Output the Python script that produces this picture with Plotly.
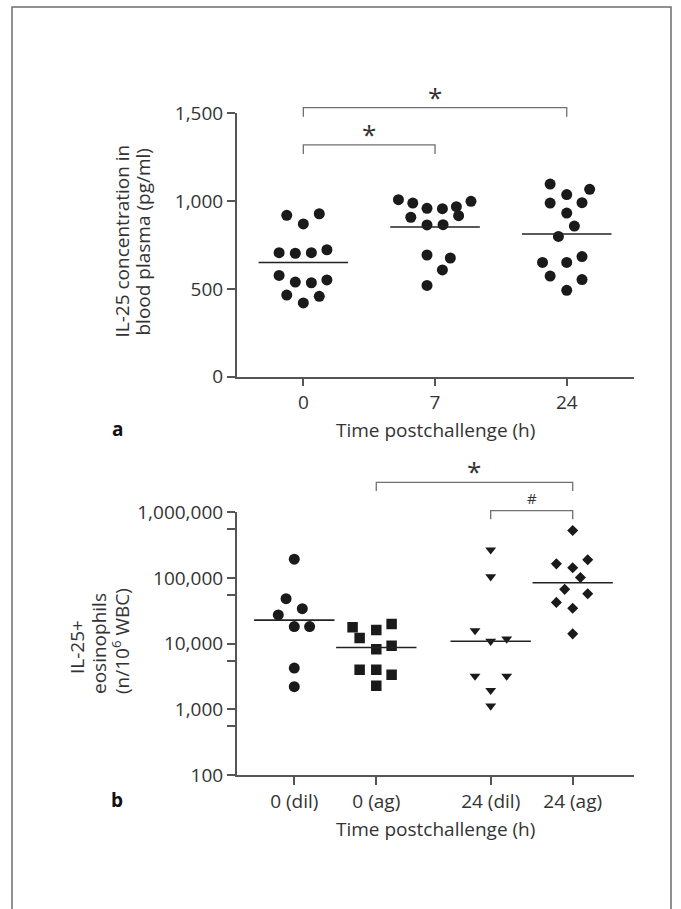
import plotly.graph_objects as go
import numpy as np

# ---------------- data ----------------
# Panel a: IL-25 concentration in blood plasma (pg/ml)
a_categories = ["0", "7", "24"]
a_0h = [919, 928, 870, 706, 703, 706, 723, 577, 539, 535, 551, 465, 458, 420]
a_7h = [1008, 989, 959, 957, 968, 999, 908, 917, 864, 866, 693, 676, 608, 520]
a_24h = [1097, 1067, 1037, 989, 991, 932, 858, 799, 651, 651, 684, 573, 553, 492]

# Panel b: IL-25+ eosinophils (n/10^6 WBC)
b_categories = ["0 (dil)", "0 (ag)", "24 (dil)", "24 (ag)"]
b_0dil = [193600, 48400, 34100, 27400, 18200, 18200, 4250, 2210]
b_0ag = [17800, 16200, 19900, 12200, 9270, 8240, 4000, 4000, 3370, 2290]
b_24dil = [268000, 104500, 15800, 10900, 11800, 3210, 3210, 1950, 1125]
b_24ag = [527000, 189000, 164000, 143000, 102000, 67100, 57700, 42500, 34500, 14100]

a_yticks = [0, 500, 1000, 1500]
b_yticks = [100, 1000, 10000, 100000, 1000000]
b_yminor = [550, 5500, 55000, 550000]

# ---------------- layout helpers (positions, not data) ----------------
a_pos = [0, 1, 2]
b_pos = [0, 1, 2.395, 3.395]
a_jitter = [
    [-0.126, 0.121, 0, -0.184, -0.061, 0.061, 0.179, -0.184, -0.061, 0.061, 0.179, -0.126, 0.121, 0],
    [-0.278, -0.169, -0.061, 0.056, 0.162, 0.273, -0.184, 0.179, -0.061, 0.061, -0.061, 0.116, 0.056, -0.061],
    [-0.126, 0.174, 0, -0.126, 0.116, 0, 0.058, -0.063, -0.184, 0, 0.116, -0.126, 0.116, 0],
]
b_jitter = [
    [0, -0.10, 0.098, -0.195, 0, 0.187, 0, 0],
    [-0.289, 0, 0.187, -0.203, 0.187, 0, -0.203, 0, 0.187, 0],
    [0, 0, -0.191, 0, 0.195, -0.191, 0.195, 0, 0],
    [0, 0.183, -0.199, 0, 0.094, -0.098, 0.183, -0.199, 0, 0],
]
b_symbols = ["circle", "square", "triangle-down", "diamond"]
b_sizes = [11, 10.5, 9.5, 8.5]

W, H = 681, 909
XDOM = [236.7 / W, 634.3 / W]
YDOM_A = [1 - 376.7 / H, 1 - 113.3 / H]
YDOM_B = [1 - 775.0 / H, 1 - 512.3 / H]
XR_A = [-0.506, 2.513]
XR_B = [-0.702, 4.146]
YR_A = [0, 1500]
YR_B = [2, 6]

FONT = "Open Sans"
TXT = "#333333"
AX = "#555555"
MK = "#1a1a1a"
FS = 19


def xpaper(x, xr):
    return XDOM[0] + (x - xr[0]) / (xr[1] - xr[0]) * (XDOM[1] - XDOM[0])


def ypaper(v, yr, dom, log=False):
    if log:
        v = np.log10(v)
    return dom[0] + (v - yr[0]) / (yr[1] - yr[0]) * (dom[1] - dom[0])


fig = go.Figure()

# panel a points + mean lines
for i, vals in enumerate([a_0h, a_7h, a_24h]):
    xs = [a_pos[i] + o for o in a_jitter[i]]
    fig.add_trace(go.Scatter(x=xs, y=vals, mode="markers", xaxis="x", yaxis="y",
                             marker=dict(symbol="circle", size=11, color=MK),
                             showlegend=False, hoverinfo="skip"))
    m = float(np.mean(vals))
    fig.add_trace(go.Scatter(x=[a_pos[i] - 0.34, a_pos[i] + 0.34], y=[m, m], mode="lines",
                             xaxis="x", yaxis="y", line=dict(color="#222222", width=1.6),
                             showlegend=False, hoverinfo="skip"))

# panel b points + median lines
for i, vals in enumerate([b_0dil, b_0ag, b_24dil, b_24ag]):
    xs = [b_pos[i] + o for o in b_jitter[i]]
    fig.add_trace(go.Scatter(x=xs, y=vals, mode="markers", xaxis="x2", yaxis="y2",
                             marker=dict(symbol=b_symbols[i], size=b_sizes[i], color=MK),
                             showlegend=False, hoverinfo="skip"))
    med = float(np.median(vals))
    fig.add_trace(go.Scatter(x=[b_pos[i] - 0.49, b_pos[i] + 0.49], y=[med, med], mode="lines",
                             xaxis="x2", yaxis="y2", line=dict(color="#222222", width=1.6),
                             showlegend=False, hoverinfo="skip"))

axis_common = dict(showline=True, linecolor=AX, linewidth=1.5, ticks="outside",
                   ticklen=8, tickwidth=1.5, tickcolor=AX, showgrid=False, zeroline=False,
                   automargin=False,
                   tickfont=dict(family=FONT, size=FS, color=TXT), fixedrange=True)

fig.update_layout(
    width=W, height=H,
    margin=dict(l=0, r=0, t=0, b=0, pad=0, autoexpand=False),
    paper_bgcolor="white", plot_bgcolor="white",
    xaxis=dict(domain=XDOM, range=XR_A, tickvals=a_pos, ticktext=a_categories,
               anchor="y", **axis_common),
    yaxis=dict(domain=YDOM_A, range=YR_A, tickvals=a_yticks,
               ticktext=[f"{v:,}" for v in a_yticks], anchor="x", **axis_common),
    xaxis2=dict(domain=XDOM, range=XR_B, tickvals=b_pos, ticktext=b_categories,
                anchor="y2", **axis_common),
    yaxis2=dict(domain=YDOM_B, range=YR_B, type="log", tickvals=b_yticks,
                ticktext=[f"{v:,}" for v in b_yticks], anchor="x2",
                minor=dict(tickvals=b_yminor, ticks="outside", ticklen=8, tickwidth=1.5,
                           tickcolor=AX, showgrid=False),
                **axis_common),
)

shapes = []
annotations = []

# outer frame
shapes.append(dict(type="rect", xref="paper", yref="paper", x0=12 / W, x1=671 / W,
                   y0=-0.05, y1=1 - 7 / H, line=dict(color="#6e6e6e", width=1.5),
                   fillcolor="rgba(0,0,0,0)"))

BR = dict(color="#707070", width=1.3)


def bracket(x0, x1, yb, ydrop, xr, yr, dom, log, label, size, shift):
    X0, X1 = xpaper(x0, xr), xpaper(x1, xr)
    Y, Yd = ypaper(yb, yr, dom, log), ypaper(ydrop, yr, dom, log)
    shapes.append(dict(type="path", xref="paper", yref="paper",
                       path=f"M{X0},{Yd} L{X0},{Y} L{X1},{Y} L{X1},{Yd}", line=BR))
    annotations.append(dict(x=(X0 + X1) / 2, y=Y, xref="paper", yref="paper", text=label,
                            showarrow=False, xanchor="center", yanchor="bottom", yshift=shift,
                            font=dict(family=FONT, size=size, color=TXT)))


bracket(a_pos[0], a_pos[1], 1320, 1268, XR_A, YR_A, YDOM_A, False, "*", 26, -9)
bracket(a_pos[0], a_pos[2], 1532, 1481, XR_A, YR_A, YDOM_A, False, "*", 26, -9)
bracket(b_pos[1], b_pos[3], 10 ** 6.457, 10 ** 6.324, XR_B, YR_B, YDOM_B, True, "*", 26, -9)
bracket(b_pos[2], b_pos[3], 10 ** 6.024, 10 ** 5.893, XR_B, YR_B, YDOM_B, True, "#", 15, 1)

# axis titles as annotations
def rot_title(text, xpx, ypx):
    annotations.append(dict(x=xpx / W, y=1 - ypx / H, xref="paper", yref="paper", text=text,
                            textangle=-90, showarrow=False, xanchor="center", yanchor="middle",
                            font=dict(family=FONT, size=FS, color=TXT)))


rot_title("IL-25 concentration in", 121.5, 241)
rot_title("blood plasma (pg/ml)", 142.5, 242)
rot_title("IL-25+", 77, 647)
rot_title("eosinophils", 99, 644)
rot_title("(n/10<sup>6</sup> WBC)", 121, 641)

for ypx in (430, 829):
    annotations.append(dict(x=435.5 / W, y=1 - ypx / H, xref="paper", yref="paper",
                            text="Time postchallenge (h)", showarrow=False,
                            xanchor="center", yanchor="middle",
                            font=dict(family=FONT, size=FS, color=TXT)))

for lab, ypx in (("a", 429), ("b", 800)):
    annotations.append(dict(x=117 / W, y=1 - ypx / H, xref="paper", yref="paper",
                            text=f"<b>{lab}</b>", showarrow=False,
                            xanchor="center", yanchor="middle",
                            font=dict(family=FONT, size=FS, color="#111111")))

fig.update_layout(shapes=shapes, annotations=annotations)
fig.write_html("out.html")
